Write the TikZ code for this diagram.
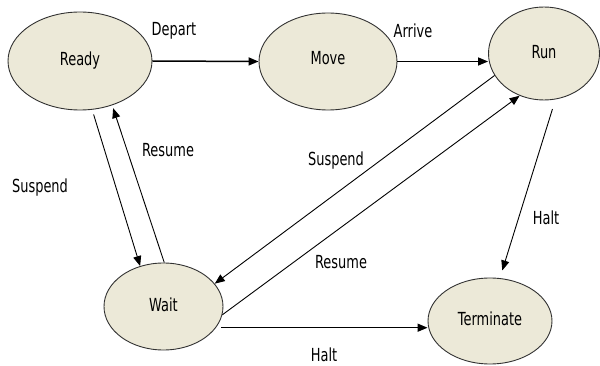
\documentclass[tikz,border=0pt]{standalone}
\usepackage{fontspec}
\setmainfont[FakeStretch=0.72]{DejaVu Sans}
\usetikzlibrary{shapes.geometric,arrows.meta}
\definecolor{statefill}{RGB}{236,233,216}
\definecolor{stateedge}{RGB}{50,50,50}
\begin{document}
\begin{tikzpicture}[x=1pt,y=-1pt,
  state/.style={ellipse,draw=stateedge,line width=0.9pt,fill=statefill,
    inner sep=0pt,font=\fontsize{18}{20}\selectfont},
  lbl/.style={inner sep=0pt,font=\fontsize{18}{20}\selectfont},
  trans/.style={-{Triangle[length=10pt,width=8pt]},line width=0.9pt},
  heavytrans/.style={trans,line width=1.5pt}]
\useasboundingbox (0,0) rectangle (600,366);

% states
\node[state,minimum width=144pt,minimum height=98pt] (ready) at (80,61) {\raisebox{5pt}{Ready}};
\node[state,minimum width=138pt,minimum height=97pt] (move) at (328,61.5) {\raisebox{7pt}{Move}};
\node[state,minimum width=111pt,minimum height=93pt] (run) at (544,53.5) {\raisebox{4pt}{Run}};
\node[state,minimum width=119pt,minimum height=87pt] (wait) at (163.5,306.5) {\raisebox{3pt}{Wait}};
\node[state,minimum width=124pt,minimum height=86pt] (term) at (490,321) {\raisebox{4pt}{Terminate}};

% transitions
\draw[heavytrans] (ready.east) -- (move.west);
\draw[heavytrans] (move.east) -- (move.east -| run.west);
\draw[trans,shorten <=5pt] (ready.-76) -- (wait.120);
\draw[trans,shorten >=3pt] (wait.89) -- (ready.-54);
\draw[trans] (run.204) -- (wait.24);
\draw[trans] (wait.-8) -- (run.240);
\draw[trans,shorten <=10pt,shorten >=8pt] (run.-76) -- (term.77);
\draw[heavytrans,shorten <=5pt] (wait.-22) -- (wait.-22 -| term.west);

% transition labels
\node[lbl] (lDepart) at (174,31) {Depart};
\node[lbl] (lArrive) at (413,31) {Arrive};
\node[lbl] (lResumeA) at (168,150) {Resume};
\node[lbl] (lSuspendA) at (40,188) {Suspend};
\node[lbl] (lSuspendB) at (336,161) {Suspend};
\node[lbl] (lResumeB) at (341,262) {Resume};
\node[lbl] (lHaltA) at (546,218) {Halt};
\node[lbl] (lHaltB) at (324,355) {Halt};
\end{tikzpicture}
\end{document}
